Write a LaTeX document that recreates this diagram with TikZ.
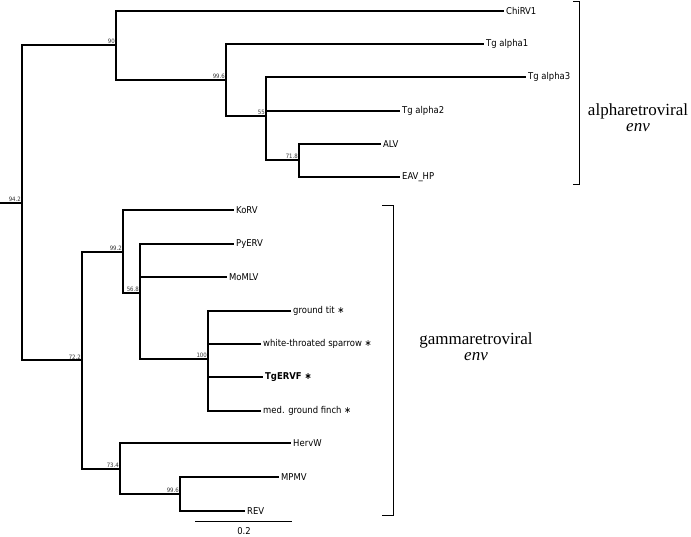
\documentclass[tikz,border=0pt]{standalone}
\usepackage{fontspec}
\setmainfont{Liberation Serif}
\newfontfamily\leaffont{DejaVu Sans Condensed}
\begin{document}
\begin{tikzpicture}[x=1pt,y=-1pt,
  branch/.style={line width=1.6pt, line cap=rect},
  thin/.style={line width=0.9pt},
  leaf/.style={anchor=west, inner xsep=3pt, inner ysep=0pt, font=\leaffont\fontsize{9.4}{11}\selectfont},
  bs/.style={anchor=south east, inner xsep=1pt, inner ysep=0.8pt, font=\leaffont\fontsize{6}{6}\selectfont, text=black!80},
  clade/.style={align=center, font=\fontsize{17}{16}\selectfont}]
\useasboundingbox (0,0) rectangle (691,536);
% internal nodes
\coordinate (rs) at (0,203);
\coordinate (r) at (22,203);
\coordinate (a90) at (116,45);
\coordinate (a996) at (226,80);
\coordinate (a55) at (266,116);
\coordinate (a718) at (299,160);
\coordinate (g722) at (82,360);
\coordinate (g992) at (123,252);
\coordinate (g568) at (140,293);
\coordinate (g100) at (208,359);
\coordinate (g734) at (120,469);
\coordinate (g996) at (180,494);
% leaves
\node[leaf] (chirv) at (503,11) {ChiRV1};
\node[leaf] (tga1) at (483,44) {Tg alpha1};
\node[leaf] (tga3) at (525,77) {Tg alpha3};
\node[leaf] (tga2) at (399,111) {Tg alpha2};
\node[leaf] (alv) at (380,144) {ALV};
\node[leaf] (eav) at (399,177) {EAV\_HP};
\node[leaf] (korv) at (233,210) {KoRV};
\node[leaf] (pyerv) at (233,244) {PyERV};
\node[leaf] (momlv) at (226,277) {MoMLV};
\node[leaf] (gtit) at (290,311) {ground tit ∗};
\node[leaf] (wts) at (260,344) {white-throated sparrow ∗};
\node[leaf, font=\leaffont\bfseries\fontsize{9.4}{11}\selectfont] (tgervf) at (262,377) {TgERVF ∗};
\node[leaf] (mgf) at (260,411) {med. ground finch ∗};
\node[leaf] (hervw) at (290,443) {HervW};
\node[leaf] (mpmv) at (278,477) {MPMV};
\node[leaf] (rev) at (244,511) {REV};
% branches
\draw[branch] (rs) -- (r);
\draw[branch] (r) |- (a90);
\draw[branch] (r) |- (g722);
\draw[branch] (a90) |- (chirv.west);
\draw[branch] (a90) |- (a996);
\draw[branch] (a996) |- (tga1.west);
\draw[branch] (a996) |- (a55);
\draw[branch] (a55) |- (tga3.west);
\draw[branch] (a55) -- (a55 |- tga2.west) -- (tga2.west);
\draw[branch] (a55) |- (a718);
\draw[branch] (a718) |- (alv.west);
\draw[branch] (a718) |- (eav.west);
\draw[branch] (g722) |- (g992);
\draw[branch] (g722) |- (g734);
\draw[branch] (g992) |- (korv.west);
\draw[branch] (g992) |- (g568);
\draw[branch] (g568) |- (pyerv.west);
\draw[branch] (g568) |- (momlv.west);
\draw[branch] (g568) |- (g100);
\draw[branch] (g100) |- (gtit.west);
\draw[branch] (g100) |- (wts.west);
\draw[branch] (g100) |- (tgervf.west);
\draw[branch] (g100) |- (mgf.west);
\draw[branch] (g734) |- (hervw.west);
\draw[branch] (g734) |- (g996);
\draw[branch] (g996) |- (mpmv.west);
\draw[branch] (g996) |- (rev.west);
% bootstrap values
\node[bs] at (r) {94.2};
\node[bs] at (a90) {90};
\node[bs] at (a996) {99.6};
\node[bs] at (a55) {55};
\node[bs] at (a718) {71.8};
\node[bs] at (g722) {72.2};
\node[bs] at (g992) {99.2};
\node[bs] at (g568) {56.8};
\node[bs] at (g100) {100};
\node[bs] at (g734) {73.4};
\node[bs] at (g996) {99.6};
% scale bar
\coordinate (sb1) at (195,521);
\coordinate (sb2) at (292,521);
\draw[thin] (sb1) -- (sb2);
\node[font=\leaffont\fontsize{9.4}{11}\selectfont, anchor=north, inner sep=0pt] (sbl) at (244,527) {0.2};
% brackets
\coordinate (ab1) at (573,1);
\coordinate (ab2) at (573,184);
\draw[thin] (ab1) -- ++(6,0) |- (ab2);
\coordinate (gb1) at (382,205);
\coordinate (gb2) at (382,515);
\draw[thin] (gb1) -- ++(11,0) |- (gb2);
\node[clade] (alab) at (638,118) {alpharetroviral\\\textit{env}};
\node[clade] (glab) at (476,347) {gammaretroviral\\\textit{env}};
\end{tikzpicture}
\end{document}
